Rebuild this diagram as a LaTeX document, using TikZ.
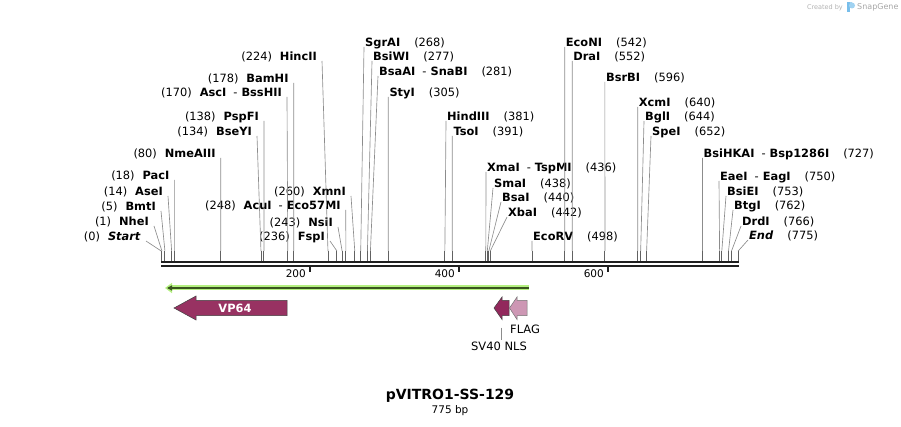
\documentclass[tikz,border=0pt]{standalone}
\usepackage{fontspec}
\setmainfont{DejaVu Sans}
\usetikzlibrary{arrows.meta}

\definecolor{vpkleur}{RGB}{152,50,98}
\definecolor{nlskleur}{RGB}{146,40,92}
\definecolor{flagkleur}{RGB}{205,151,180}
\definecolor{groenlicht}{RGB}{180,240,128}
\definecolor{groendonker}{RGB}{58,84,30}
\definecolor{logoblauw}{RGB}{120,190,235}

% positie in bp naar x
\newcommand{\bp}[1]{161.2+0.7445*#1}
\newcommand{\linksgat}{\hspace{8pt}}
\newcommand{\rechtsgat}{\hspace{14pt}}
\newcommand{\streep}{\hspace{7pt}-\hspace{4pt}}

\begin{document}
\begin{tikzpicture}[>=latex, x=1pt, y=-1pt]

% --- Stijldefinities ---
\tikzset{
    links/.style={
        anchor=base east,
        inner xsep=5pt,
        inner ysep=0pt,
        font=\fontsize{11.4}{13}\selectfont
    },
    rechts/.style={
        anchor=base west,
        inner xsep=1pt,
        inner ysep=0pt,
        font=\fontsize{11.4}{13}\selectfont
    },
    lijn/.style={
        draw=black!45,
        line width=0.65pt
    },
    stomp/.style={
        draw=black!62,
        line width=0.9pt
    },
    schaal/.style={
        anchor=base east,
        inner sep=0pt,
        font=\fontsize{10.5}{12}\selectfont
    },
    kenmerk/.style={
        draw=black!75,
        line width=0.5pt
    }
}

\useasboundingbox (0,0) rectangle (901,427);

% --- Knipplaatsen op de ruggengraat ---
\coordinate (bb) at (0,261);
\foreach \p in {0,1,5,14,18,80,134,138,170,178,224,236,243,248,260,
                268,277,281,305,381,391,436,438,440,442,498,542,552,
                596,640,644,652,727,750,753,762,766,775} {
    \coordinate (p\p) at (\bp{\p},251);
    \draw[stomp] (p\p) -- (p\p |- bb);
}

% --- Ruggengraat en schaal ---
\coordinate (bbl) at (161.2,264.2);
\coordinate (bbr) at (738.8,264.2);
\draw[line width=2.1pt, double distance=2.3pt, draw=black!88] (bbl) -- (bbr);

\coordinate (tk) at (0,272.5);
\coordinate (t200) at (\bp{200},266.5);
\coordinate (t400) at (\bp{400},266.5);
\coordinate (t600) at (\bp{600},266.5);
\draw[line width=1.8pt, draw=black!88] (t200) -- (t200 |- tk);
\draw[line width=1.8pt, draw=black!88] (t400) -- (t400 |- tk);
\draw[line width=1.8pt, draw=black!88] (t600) -- (t600 |- tk);
\node[schaal] (l200) at (306,278) {200};
\node[schaal] (l400) at (455,278) {400};
\node[schaal] (l600) at (604,278) {600};

% --- Enzymen links van hun lijn ---
\node[links] (startpunt) at (146,241)   {(0)\linksgat\textbf{\textit{Start}}};
\node[links] (nhei)      at (154,226)   {(1)\linksgat\textbf{NheI}};
\node[links] (bmti)      at (161,211)   {(5)\linksgat\textbf{BmtI}};
\node[links] (asei)      at (168,196)   {(14)\linksgat\textbf{AseI}};
\node[links] (paci)      at (174.6,180) {(18)\linksgat\textbf{PacI}};
\node[links] (nmeaiii)   at (220.8,158) {(80)\linksgat\textbf{NmeAIII}};
\node[links] (bseyi)     at (257,136)   {(134)\linksgat\textbf{BseYI}};
\node[links] (pspfi)     at (264,121)   {(138)\linksgat\textbf{PspFI}};
\node[links] (asci)      at (287,97)    {(170)\linksgat\textbf{AscI}\streep\textbf{BssHII}};
\node[links] (bamhi)     at (293.7,83)  {(178)\linksgat\textbf{BamHI}};
\node[links] (hincii)    at (322,61)    {(224)\linksgat\textbf{HincII}};
\node[links] (fspi)      at (330,241)   {(236)\linksgat\textbf{FspI}};
\node[links] (nsii)      at (338,227)   {(243)\linksgat\textbf{NsiI}};
\node[links] (acui)      at (345.8,210) {(248)\linksgat\textbf{AcuI}\streep\textbf{Eco57MI}};
\node[links] (xmni)      at (351,196)   {(260)\linksgat\textbf{XmnI}};

% --- Enzymen rechts van hun lijn ---
\node[rechts] (sgrai)    at (364,47)    {\textbf{SgrAI}\rechtsgat(268)};
\node[rechts] (bsiwi)    at (372,61)    {\textbf{BsiWI}\rechtsgat(277)};
\node[rechts] (bsaai)    at (378,76)    {\textbf{BsaAI}\streep\textbf{SnaBI}\rechtsgat(281)};
\node[rechts] (styi)     at (388.3,97)  {\textbf{StyI}\rechtsgat(305)};
\node[rechts] (hindiii)  at (446,121)   {\textbf{HindIII}\rechtsgat(381)};
\node[rechts] (tsoi)     at (452.3,136) {\textbf{TsoI}\rechtsgat(391)};
\node[rechts] (xmai)     at (486,172)   {\textbf{XmaI}\streep\textbf{TspMI}\rechtsgat(436)};
\node[rechts] (smai)     at (493,188)   {\textbf{SmaI}\rechtsgat(438)};
\node[rechts] (bsai)     at (501,202)   {\textbf{BsaI}\rechtsgat(440)};
\node[rechts] (xbai)     at (507,217)   {\textbf{XbaI}\rechtsgat(442)};
\node[rechts] (ecorv)    at (532,241)   {\textbf{EcoRV}\rechtsgat(498)};
\node[rechts] (econi)    at (564.7,47)  {\textbf{EcoNI}\rechtsgat(542)};
\node[rechts] (drai)     at (572.2,61)  {\textbf{DraI}\rechtsgat(552)};
\node[rechts] (bsrbi)    at (604.9,82)  {\textbf{BsrBI}\rechtsgat(596)};
\node[rechts] (xcmi)     at (637.7,107) {\textbf{XcmI}\rechtsgat(640)};
\node[rechts] (bgli)     at (644,121)   {\textbf{BglI}\rechtsgat(644)};
\node[rechts] (spei)     at (651,136)   {\textbf{SpeI}\rechtsgat(652)};
\node[rechts] (bsihkai)  at (702.5,158) {\textbf{BsiHKAI}\streep\textbf{Bsp1286I}\rechtsgat(727)};
\node[rechts] (eaei)     at (719,181)   {\textbf{EaeI}\streep\textbf{EagI}\rechtsgat(750)};
\node[rechts] (bsiei)    at (726,196)   {\textbf{BsiEI}\rechtsgat(753)};
\node[rechts] (btgi)     at (733,210)   {\textbf{BtgI}\rechtsgat(762)};
\node[rechts] (drdi)     at (741,226)   {\textbf{DrdI}\rechtsgat(766)};
\node[rechts] (eindpunt) at (748,240)   {\textbf{\textit{End}}\rechtsgat(775)};

% --- Lijnen naar de knipplaatsen ---
\draw[lijn] (startpunt.base east) -- (p0);
\draw[lijn] (nhei.base east) -- (p1);
\draw[lijn] (bmti.base east) -- (p5);
\draw[lijn] (asei.base east) -- (p14);
\draw[lijn] (paci.base east) -- (p18);
\draw[lijn] (nmeaiii.base east) -- (p80);
\draw[lijn] (bseyi.base east) -- (p134);
\draw[lijn] (pspfi.base east) -- (p138);
\draw[lijn] (asci.base east) -- (p170);
\draw[lijn] (bamhi.base east) -- (p178);
\draw[lijn] (hincii.base east) -- (p224);
\draw[lijn] (fspi.base east) -- (p236);
\draw[lijn] (nsii.base east) -- (p243);
\draw[lijn] (acui.base east) -- (p248);
\draw[lijn] (xmni.base east) -- (p260);

\draw[lijn] (sgrai.base west) -- (p268);
\draw[lijn] (bsiwi.base west) -- (p277);
\draw[lijn] (bsaai.base west) -- (p281);
\draw[lijn] (styi.base west) -- (p305);
\draw[lijn] (hindiii.base west) -- (p381);
\draw[lijn] (tsoi.base west) -- (p391);
\draw[lijn] (xmai.base west) -- (p436);
\draw[lijn] (smai.base west) -- (p438);
\draw[lijn] (bsai.base west) -- (p440);
\draw[lijn] (xbai.base west) -- (p442);
\draw[lijn] (ecorv.base west) -- (p498);
\draw[lijn] (econi.base west) -- (p542);
\draw[lijn] (drai.base west) -- (p552);
\draw[lijn] (bsrbi.base west) -- (p596);
\draw[lijn] (xcmi.base west) -- (p640);
\draw[lijn] (bgli.base west) -- (p644);
\draw[lijn] (spei.base west) -- (p652);
\draw[lijn] (bsihkai.base west) -- (p727);
\draw[lijn] (eaei.base west) -- (p750);
\draw[lijn] (bsiei.base west) -- (p753);
\draw[lijn] (btgi.base west) -- (p762);
\draw[lijn] (drdi.base west) -- (p766);
\draw[lijn] (eindpunt.base west) -- (p775);

% --- Kenmerken ---
\coordinate (g1) at (529,288);
\coordinate (g2) at (165,288);
\draw[groenlicht, line width=5pt, -{Triangle[length=7pt,width=10pt]}] (g1) -- (g2);
\draw[groendonker, line width=1.3pt, -{Triangle[length=5pt,width=5pt]}] (g1) -- ([xshift=2pt]g2);

% VP64
\filldraw[kenmerk, fill=vpkleur] (287,300.3) -- (196,300.3) -- (196,296) -- (174,308)
    -- (196,320) -- (196,315.7) -- (287,315.7) -- cycle;
\node[text=white, font=\bfseries\fontsize{11.4}{13}\selectfont] (vp64) at (235,308) {VP64};

% SV40 NLS en FLAG
\filldraw[kenmerk, fill=nlskleur] (509,300.3) -- (502,300.3) -- (502,297) -- (494,308)
    -- (502,319.5) -- (502,315.7) -- (509,315.7) -- cycle;
\filldraw[kenmerk, draw=black!55, fill=flagkleur] (527,300.3) -- (517,300.3) -- (517,297) -- (509.5,308)
    -- (517,319.5) -- (517,315.7) -- (527,315.7) -- cycle;

\node[anchor=west, inner sep=0pt, font=\fontsize{11.5}{13}\selectfont] (flag) at (510,329) {FLAG};
\node[inner sep=1pt, font=\fontsize{11.5}{13}\selectfont] (nls) at (499,346) {SV40 NLS};
\coordinate (nlsvoet) at (501,327.5);
\draw[lijn] (nlsvoet) -- (nlsvoet |- nls.north);

% --- Titel ---
\node[font=\bfseries\fontsize{14}{16}\selectfont] (titel) at (450,396) {pVITRO1-SS-129};
\node[font=\fontsize{10.5}{12}\selectfont] (lengte) at (450,411) {775 bp};

% --- Merkteken ---
\node[anchor=east, inner sep=0pt, text=black!30, font=\fontsize{6.5}{8}\selectfont] (gemaakt) at (843,7.5) {Created by};
\fill[logoblauw] (846.5,2.5) rectangle (849.5,12.5);
\fill[logoblauw!70] (849.5,2.5) rectangle (852,8.5);
\fill[logoblauw!70] (852,5.5) circle (3pt);
\node[anchor=west, inner sep=0pt, text=black!35, font=\fontsize{8}{10}\selectfont] (snapgene) at (857,7.5) {SnapGene};

\end{tikzpicture}
\end{document}
